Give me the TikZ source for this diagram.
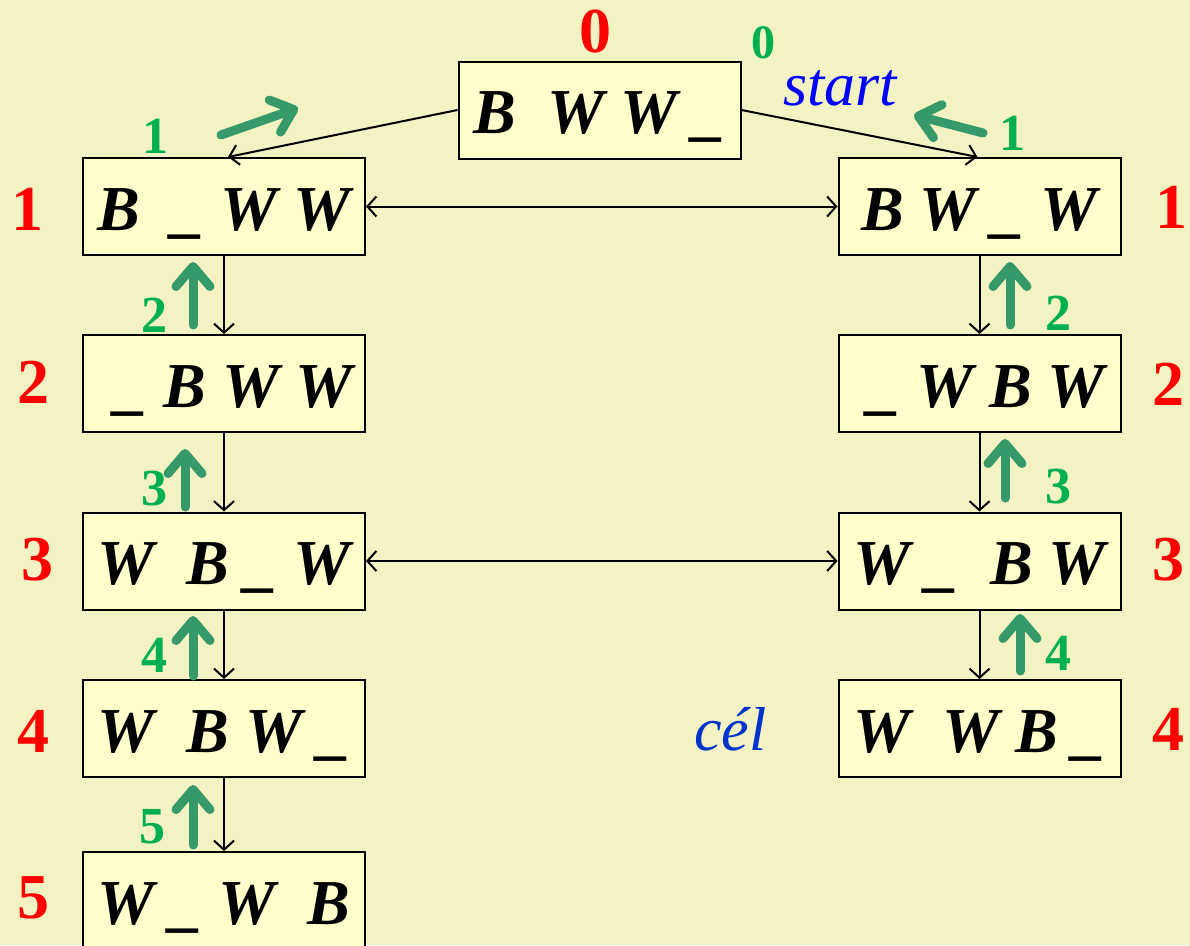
\documentclass[tikz,border=0pt]{standalone}
\usepackage{fontspec}
\setmainfont{Liberation Serif}
\usetikzlibrary{arrows.meta}
\definecolor{bg}{RGB}{242,242,194}
\definecolor{boxfill}{RGB}{255,255,204}
\definecolor{garrowc}{RGB}{54,153,106}
\definecolor{gtext}{RGB}{0,176,80}
\definecolor{celblue}{RGB}{0,51,204}
\tikzset{
  state/.style={draw=black, line width=2pt, fill=boxfill, minimum width=282pt, minimum height=97pt,
    inner sep=0pt, text height=50pt, text depth=3pt, font=\fontsize{64}{70}\selectfont\bfseries\itshape},
  rednum/.style={text=red, anchor=base, inner sep=0pt, font=\fontsize{64}{70}\selectfont\bfseries},
  grnnum/.style={text=gtext, anchor=base, inner sep=0pt, font=\fontsize{52}{58}\selectfont\bfseries},
  garrow/.style={draw=garrowc, line width=9pt, line cap=round,
    -{Straight Barb[round, length=20pt, width=34pt]}},
  barrow/.style={draw=black, line width=2pt, -{Straight Barb[length=9pt, width=20pt]}},
  dbarrow/.style={draw=black, line width=2pt, {Straight Barb[length=9pt, width=20pt]}-{Straight Barb[length=9pt, width=20pt]}},
}
\begin{document}
\begin{tikzpicture}[x=1pt,y=-1pt]
\fill[bg] (0,0) rectangle (1190,945);
\useasboundingbox (0,0) rectangle (1190,945);
% state boxes
\node[state] (T)  at (599.5,110)   {B\ \ W W \_};
\node[state] (L1) at (224,206.5)   {B\ \ \_ W W};
\node[state] (L2) at (224,383.5)   {\hspace*{20pt}\_ B W W};
\node[state] (L3) at (224,561)     {W\ \ B \_ W};
\node[state] (L4) at (224,728.5)   {W\ \ B W \_};
\node[state] (L5) at (224,900.5)   {W \_ W\ \ B};
\node[state] (R1) at (979.5,206.5) {B W \_ W};
\node[state] (R2) at (979.5,383.5) {\hspace*{14pt}\_ W B W};
\node[state] (R3) at (979.5,561)   {W \_\ \ B W};
\node[state] (R4) at (979.5,728.5) {W\ \ W B \_};
% black connectors
\draw[barrow] (T.west) -- ([xshift=4pt]L1.north);
\draw[barrow] (T.east) -- ([xshift=-2pt]R1.north);
\draw[dbarrow] (L1.east) -- (R1.west);
\draw[dbarrow] (L3.east) -- (R3.west);
\draw[barrow] (L1.south) -- (L2.north);
\draw[barrow] (L2.south) -- (L3.north);
\draw[barrow] (L3.south) -- (L4.north);
\draw[barrow] (L4.south) -- (L5.north);
\draw[barrow] (R1.south) -- (R2.north);
\draw[barrow] (R2.south) -- (R3.north);
\draw[barrow] (R3.south) -- (R4.north);
% green arrows
\coordinate (gl1a) at (221,135); \coordinate (gl1b) at (298,108);
\coordinate (gr1a) at (983,133); \coordinate (gr1b) at (914,115);
\coordinate (gl2a) at (193,325); \coordinate (gl2b) at (193,262);
\coordinate (gr2a) at (1010,325); \coordinate (gr2b) at (1010,262);
\coordinate (gl3a) at (185,507); \coordinate (gl3b) at (185,449);
\coordinate (gr3a) at (1005,498); \coordinate (gr3b) at (1005,439);
\coordinate (gl4a) at (193,676); \coordinate (gl4b) at (193,616);
\coordinate (gr4a) at (1020,671); \coordinate (gr4b) at (1020,614);
\coordinate (gl5a) at (193,845); \coordinate (gl5b) at (193,785);
\foreach \a/\b in {gl1a/gl1b,gr1a/gr1b,gl2a/gl2b,gr2a/gr2b,gl3a/gl3b,gr3a/gr3b,gl4a/gl4b,gr4a/gr4b,gl5a/gl5b}
  \draw[garrow] (\a) -- (\b);
% red level numbers
\node[rednum] (r0)  at (595,52)   {0};
\node[rednum] (rl1) at (28,230)   {1};
\node[rednum] (rl2) at (33,403)   {2};
\node[rednum] (rl3) at (37,580)   {3};
\node[rednum] (rl4) at (33,752)   {4};
\node[rednum] (rl5) at (33,918)   {5};
\node[rednum] (rr1) at (1171,228) {1};
\node[rednum] (rr2) at (1168,405) {2};
\node[rednum] (rr3) at (1168,580) {3};
\node[rednum] (rr4) at (1168,750) {4};
% green numbers
\node[grnnum, font=\fontsize{48}{54}\selectfont\bfseries] (g0) at (763,58) {0};
\node[grnnum] (gl1) at (155,153) {1};
\node[grnnum] (gr1) at (1012,150) {1};
\node[grnnum] (gl2) at (154,332) {2};
\node[grnnum] (gr2) at (1058,330) {2};
\node[grnnum] (gl3) at (154,505) {3};
\node[grnnum] (gr3) at (1058,503) {3};
\node[grnnum] (gl4) at (154,672) {4};
\node[grnnum] (gr4) at (1058,670) {4};
\node[grnnum] (gl5) at (152,843) {5};
% start / goal labels
\node[anchor=base west, inner sep=0pt, text=blue, font=\fontsize{62}{68}\selectfont\itshape] (start) at (783,105) {start};
\node[anchor=base west, inner sep=0pt, text=celblue, font=\fontsize{62}{68}\selectfont\itshape] (cel) at (694,750) {cél};
\end{tikzpicture}
\end{document}
